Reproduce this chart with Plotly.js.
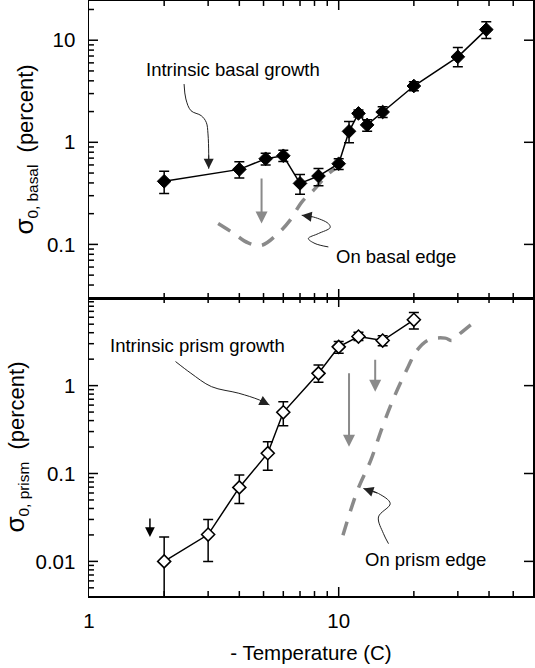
<!DOCTYPE html>
<html><head><meta charset="utf-8">
<script src="https://cdn.plot.ly/plotly-3.0.1.min.js"></script>
<style>html,body{margin:0;padding:0;background:#fff}
#wrap{position:relative;width:535px;height:668px;overflow:hidden}
#top{position:absolute;left:0;top:0;width:535px;height:300px}
#bot{position:absolute;left:0;top:297px;width:535px;height:371px}</style>
</head><body><div id="wrap"><div id="top"></div><div id="bot"></div></div>
<script>
// ---- Top panel: basal ----
const basalT        = [2, 4, 5.1, 6, 7, 8.3, 10, 11, 12, 13, 15, 20, 30, 39];
const basalSigma    = [0.415, 0.543, 0.69, 0.738, 0.396, 0.467, 0.617, 1.28, 1.92, 1.48, 1.98, 3.56, 6.87, 12.7];
const basalErrPlus  = [0.105, 0.102, 0.09, 0.10, 0.089, 0.088, 0.073, 0.32, 0.15, 0.18, 0.25, 0.36, 1.63, 2.5];
const basalErrMinus = [0.099, 0.096, 0.09, 0.088, 0.086, 0.091, 0.077, 0.29, 0.15, 0.20, 0.23, 0.36, 1.37, 2.3];
const basalEdgeT     = [3.29, 3.73, 4.34, 4.91, 5.73, 6.38, 7.11, 7.92, 9.09, 9.67];
const basalEdgeSigma = [0.16, 0.132, 0.1035, 0.098, 0.129, 0.172, 0.26, 0.338, 0.492, 0.55];

// ---- Bottom panel: prism ----
const prismT        = [2, 3, 4, 5.2, 6, 8.3, 10, 12, 15, 20];
const prismSigma    = [0.01, 0.0202, 0.0694, 0.17, 0.497, 1.38, 2.76, 3.62, 3.26, 5.61];
const prismErrPlus  = [0.009, 0.0098, 0.0266, 0.06, 0.16, 0.34, 0.41, 0.44, 0.43, 1.19];
const prismErrMinus = [0.0099, 0.0102, 0.0238, 0.061, 0.147, 0.29, 0.42, 0.36, 0.42, 1.21];
const prismEdgeT     = [10.4, 11.9, 13.45, 14.9, 16.7, 19.0, 20.4, 22.9, 26.7, 28.4, 30.2, 35.8];
const prismEdgeSigma = [0.0198, 0.0646, 0.142, 0.327, 0.749, 1.65, 2.44, 3.32, 3.47, 3.26, 3.79, 5.62];

// ---- Straight arrows (x, from, to, panel) ----
const grayArrowT    = [4.91, 11, 14];
const grayArrowFrom = [0.456, 1.44, 2.05];
const grayArrowTo   = [0.16, 0.201, 0.854];
const grayArrowPanel= ['top', 'bottom', 'bottom'];
const blackArrowT = [1.754], blackArrowFrom = [0.032], blackArrowTo = [0.0189];

// ---- Curved pointer lines for labels ----
const ptrBasalT = [2.403, 2.443, 2.561, 2.814, 2.949, 2.996, 3.016, 3.016];
const ptrBasalS = [3.72, 2.656, 2.04, 1.824, 1.569, 1.209, 0.771, 0.551];
const ptrBasalEdgeT = [9.09, 8.04, 7.56, 8.29, 9.24, 9.09, 7.92, 7.11];
const ptrBasalEdgeS = [0.0945, 0.102, 0.1142, 0.1277, 0.1462, 0.16, 0.1855, 0.1928];
const ptrPrismT = [2.221, 2.558, 3.092, 3.98, 4.81, 5.28];
const ptrPrismS = [1.879, 1.385, 0.974, 0.819, 0.687, 0.602];
const ptrPrismEdgeT = [15.83, 15.11, 14.43, 16.08, 14.43, 12.56];
const ptrPrismEdgeS = [0.0159, 0.0207, 0.032, 0.0455, 0.0592, 0.0675];

// ---- Labels ----
const labelText  = ['Intrinsic basal growth', 'On basal edge', 'Intrinsic prism growth', 'On prism edge'];
const labelT     = [3.79, 16.9, 2.73, 22.3];
const labelS     = [5.13, 0.0767, 2.84, 0.01045];
const labelPanel = ['top', 'top', 'bottom', 'bottom'];

// ---- Axis ranges (log10) and tick values ----
const xRange      = [0, Math.log10(60)];
const yRangeTop   = [-1.525, 1.384];
const yRangeBot   = [-2.394, 0.997];
const xMajorTicks = [10];
const xMinorTicks = [2, 3, 4, 5, 6, 7, 8, 9, 20, 30, 40, 50];
const yMajorTop   = [0.1, 1, 10];
const yMinorTop   = [0.03, 0.04, 0.05, 0.06, 0.07, 0.08, 0.09, 0.2, 0.3, 0.4, 0.5, 0.6, 0.7, 0.8, 0.9,
                     2, 3, 4, 5, 6, 7, 8, 9, 20];
const yMajorBot   = [0.01, 0.1, 1];
const yMinorBot   = [0.005, 0.006, 0.007, 0.008, 0.009, 0.02, 0.03, 0.04, 0.05, 0.06, 0.07, 0.08, 0.09,
                     0.2, 0.3, 0.4, 0.5, 0.6, 0.7, 0.8, 0.9, 2, 3, 4, 5, 6, 7, 8, 9];

const FONT = 'Liberation Sans, Arial, sans-serif';
const GRAY = '#8a8a8a';
const L = Math.log10;
const MAJOR = 12.9, MINOR = 7.1;   // marker sizes giving 9px / 5px inside ticks

const panels = {top: {traces: [], annotations: []}, bottom: {traces: [], annotations: []}};

// tick marks drawn as clipped line markers sitting on the plot edges
function tickMarks(p, xs, ys, symbol, size) {
  panels[p].traces.push({x: xs, y: ys, mode: 'markers', type: 'scatter', cliponaxis: true,
    marker: {symbol: symbol, size: size, color: '#000', line: {color: '#000', width: 1.5}},
    hoverinfo: 'skip', showlegend: false});
}
function addTicks(p, yR, yMaj, yMin, xTopMinor) {
  const yLo = Math.pow(10, yR[0]), yHi = Math.pow(10, yR[1]);
  const xLo = Math.pow(10, xRange[0]), xHi = Math.pow(10, xRange[1]);
  [yLo, yHi].forEach(yEdge => {
    tickMarks(p, xMajorTicks, xMajorTicks.map(() => yEdge), 'line-ns', MAJOR);
    if (yEdge === yLo || xTopMinor) tickMarks(p, xMinorTicks, xMinorTicks.map(() => yEdge), 'line-ns', MINOR);
  });
  tickMarks(p, yMaj.map(() => xLo), yMaj, 'line-ew', MAJOR);
  tickMarks(p, yMin.map(() => xLo), yMin, 'line-ew', MINOR);
  tickMarks(p, yMaj.map(() => xHi), yMaj, 'line-ew', MAJOR);
}
addTicks('top', yRangeTop, yMajorTop, yMinorTop, true);
addTicks('bottom', yRangeBot, yMajorBot, yMinorBot, true);

function pointer(xs, ys, p) {
  panels[p].traces.push({x: xs, y: ys, mode: 'lines', type: 'scatter',
    line: {color: '#222', width: 1, shape: 'spline'}, hoverinfo: 'skip', showlegend: false});
  const n = xs.length;
  panels[p].annotations.push({xref: 'x', yref: 'y', axref: 'x', ayref: 'y',
    x: L(xs[n-1]), y: L(ys[n-1]), ax: L(xs[n-2]), ay: L(ys[n-2]), text: '',
    showarrow: true, arrowhead: 2, arrowsize: 2, arrowwidth: 1, arrowcolor: '#222'});
}
// dashed edge curves
panels.top.traces.push({x: basalEdgeT, y: basalEdgeSigma, mode: 'lines', type: 'scatter',
  line: {color: GRAY, width: 3.5, dash: '14px,11px', shape: 'spline'}, showlegend: false});
panels.bottom.traces.push({x: prismEdgeT, y: prismEdgeSigma, mode: 'lines', type: 'scatter',
  line: {color: GRAY, width: 3.5, dash: '14px,11px', shape: 'spline'}, showlegend: false});
pointer(ptrBasalT, ptrBasalS, 'top');
pointer(ptrBasalEdgeT, ptrBasalEdgeS, 'top');
pointer(ptrPrismT, ptrPrismS, 'bottom');
pointer(ptrPrismEdgeT, ptrPrismEdgeS, 'bottom');
// data
panels.top.traces.push({x: basalT, y: basalSigma, mode: 'lines+markers', type: 'scatter',
  line: {color: '#000', width: 1.5},
  marker: {symbol: 'diamond', size: 10.5, color: '#000', line: {color: '#000', width: 1}},
  error_y: {type: 'data', symmetric: false, array: basalErrPlus, arrayminus: basalErrMinus,
    color: '#000', thickness: 1.5, width: 5}, showlegend: false});
panels.bottom.traces.push({x: prismT, y: prismSigma, mode: 'lines+markers', type: 'scatter',
  line: {color: '#000', width: 1.5},
  marker: {symbol: 'diamond', size: 10, color: '#fff', line: {color: '#000', width: 1.6}},
  error_y: {type: 'data', symmetric: false, array: prismErrPlus, arrayminus: prismErrMinus,
    color: '#000', thickness: 1.5, width: 5}, showlegend: false});

grayArrowT.forEach((t, i) => {
  panels[grayArrowPanel[i]].annotations.push({xref: 'x', yref: 'y', axref: 'x', ayref: 'y',
    x: L(t), y: L(grayArrowTo[i]), ax: L(t), ay: L(grayArrowFrom[i]), text: '',
    showarrow: true, arrowhead: 2, arrowsize: 1.2, arrowwidth: 2, arrowcolor: GRAY});
});
blackArrowT.forEach((t, i) => {
  panels.bottom.annotations.push({xref: 'x', yref: 'y', axref: 'x', ayref: 'y',
    x: L(t), y: L(blackArrowTo[i]), ax: L(t), ay: L(blackArrowFrom[i]), text: '',
    showarrow: true, arrowhead: 2, arrowsize: 1.3, arrowwidth: 1.5, arrowcolor: '#000'});
});
labelText.forEach((t, i) => {
  panels[labelPanel[i]].annotations.push({xref: 'x', yref: 'y', x: L(labelT[i]), y: L(labelS[i]), text: t,
    showarrow: false, font: {family: FONT, size: 18.5, color: '#000'}});
});

function axis(extra) {
  return Object.assign({type: 'log', dtick: 1, ticks: '', showline: true, linewidth: 1.5,
    linecolor: '#000', mirror: true, showgrid: false, zeroline: false, exponentformat: 'none',
    tickfont: {family: FONT, size: 20.5, color: '#000'}}, extra);
}
const yTitle = sub => ({text: '<span style="font-size:26px">σ</span><sub>0, ' + sub + '</sub>  (percent)',
  font: {family: FONT, size: 22, color: '#000'}, standoff: 7});

const topLayout = {
  width: 535, height: 300, margin: {l: 89, r: 2, t: 1, b: 2},
  paper_bgcolor: 'rgba(0,0,0,0)', plot_bgcolor: 'rgba(0,0,0,0)', showlegend: false,
  xaxis: axis({range: xRange, showticklabels: false}),
  yaxis: axis({range: yRangeTop, ticklabelstandoff: 8, title: yTitle('basal')}),
  annotations: panels.top.annotations
};
const botLayout = {
  width: 535, height: 371, margin: {l: 89, r: 2, t: 1, b: 72},
  paper_bgcolor: 'rgba(0,0,0,0)', plot_bgcolor: 'rgba(0,0,0,0)', showlegend: false,
  xaxis: axis({range: xRange, ticklabelstandoff: 6,
    title: {text: '- Temperature (C)', font: {family: FONT, size: 20.5, color: '#000'}, standoff: 14}}),
  yaxis: axis({range: yRangeBot, ticklabelstandoff: 8, title: yTitle('prism')}),
  annotations: panels.bottom.annotations
};

Plotly.newPlot('top', panels.top.traces, topLayout, {displayModeBar: false, staticPlot: true});
Plotly.newPlot('bot', panels.bottom.traces, botLayout, {displayModeBar: false, staticPlot: true});
</script></body></html>
